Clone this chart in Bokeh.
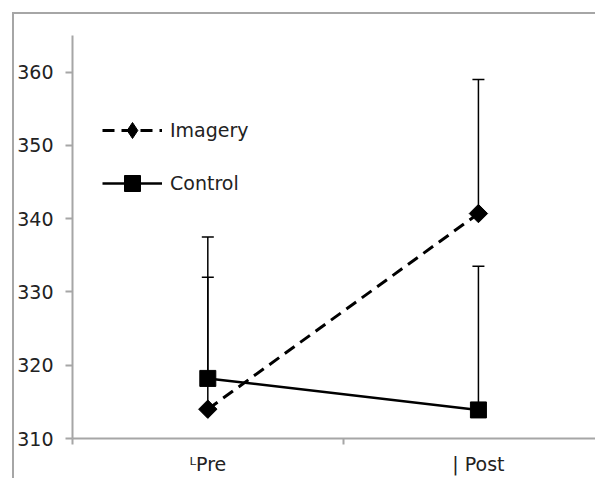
import numpy as np
from bokeh.plotting import figure
from bokeh.models import Range1d, FixedTicker, Whisker, TeeHead, ColumnDataSource, Legend
from bokeh.embed import file_html
from bokeh.resources import INLINE

# ---- data ----
phases = ["Pre", "Post"]
tick_labels = ["\u1d38Pre", "| Post"]
imagery_mean = [314.0, 340.7]
imagery_err = [18.0, 18.3]
control_mean = [318.2, 313.9]
control_err = [19.3, 19.6]
y_ticks = [310, 320, 330, 340, 350, 360]

xpos = [i + 0.5 for i in range(len(phases))]
GREY = "#a6a6a6"
FONT = "DejaVu Sans"

p = figure(width=583, height=466, x_range=Range1d(0, 1.94), y_range=Range1d(310, 365),
           output_backend="svg", toolbar_location=None,
           min_border_left=58, min_border_top=21, min_border_right=0, min_border_bottom=42)
p.styles = {"margin-left": "12px", "margin-top": "12px",
            "border-left": "2px solid " + GREY, "border-top": "2px solid " + GREY}
p.outline_line_color = None
p.xgrid.grid_line_color = None
p.ygrid.grid_line_color = None
p.background_fill_color = "white"
p.border_fill_color = "white"

# error bars (upper only)
for mean, err in ((imagery_mean, imagery_err), (control_mean, control_err)):
    src = ColumnDataSource(dict(x=xpos, lo=mean, hi=[m + e for m, e in zip(mean, err)]))
    w = Whisker(source=src, base="x", lower="lo", upper="hi", dimension="height",
                line_color="black", line_width=1.5, lower_head=None,
                upper_head=TeeHead(size=12, line_color="black", line_width=1.5))
    p.add_layout(w)

# series
r1 = p.line(xpos, imagery_mean, line_color="black", line_width=3, line_dash="12 7")
# diamond used for the legend entry (sits hidden under the rotated square)
r2_leg = p.scatter(xpos, imagery_mean, marker="diamond", size=16,
                   fill_color="black", line_color="black")
r2 = p.scatter(xpos, imagery_mean, marker="square", angle=np.pi / 4, size=13,
               fill_color="black", line_color="black")
r3 = p.line(xpos, control_mean, line_color="black", line_width=2.5)
r4 = p.scatter(xpos, control_mean, marker="square", size=16,
               fill_color="black", line_color="black")

legend = Legend(items=[("Imagery", [r1, r2_leg]), ("Control", [r3, r4])],
                location=(30, 235), orientation="vertical",
                background_fill_alpha=0, border_line_color=None,
                padding=0, margin=0, spacing=13,
                glyph_width=60, glyph_height=40, label_height=40, label_standoff=8,
                label_text_font=FONT, label_text_font_size="19px", label_text_color="#222222")
p.add_layout(legend, "center")

# y axis
ya = p.yaxis[0]
ya.ticker = FixedTicker(ticks=y_ticks)
ya.bounds = (310, 365)
ya.axis_line_color = GREY
ya.axis_line_width = 2
ya.major_tick_line_color = GREY
ya.major_tick_line_width = 2
ya.major_tick_out = 7
ya.major_tick_in = 0
ya.minor_tick_line_color = None
ya.major_label_standoff = 12
ya.major_label_text_font = FONT
ya.major_label_text_font_size = "19px"
ya.major_label_text_color = "#222222"

# x axis
xa = p.xaxis[0]
xa.ticker = FixedTicker(ticks=xpos, minor_ticks=[0, 1, 2])
xa.major_label_overrides = {x: t for x, t in zip(xpos, tick_labels)}
xa.axis_line_color = GREY
xa.axis_line_width = 2
xa.major_tick_line_color = None
xa.major_tick_out = 0
xa.major_tick_in = 0
xa.minor_tick_line_color = GREY
xa.minor_tick_line_width = 2
xa.minor_tick_out = 6
xa.minor_tick_in = 0
xa.major_label_standoff = 8
xa.major_label_text_font = FONT
xa.major_label_text_font_size = "19px"
xa.major_label_text_color = "#222222"

open("out.html", "w").write(file_html(p, INLINE))
